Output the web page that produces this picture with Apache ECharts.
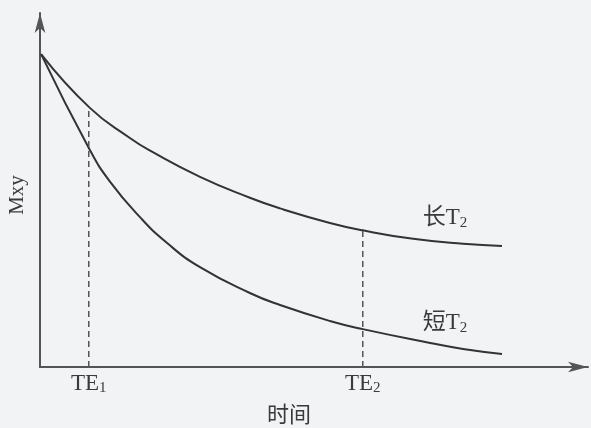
<!DOCTYPE html>
<html>
<head>
<meta charset="utf-8">
<script src="https://cdn.jsdelivr.net/npm/echarts@6/dist/echarts.min.js"></script>
<style>
  html, body { margin: 0; padding: 0; background: #f2f3f5; }
  #chart { width: 591px; height: 428px; }
</style>
</head>
<body>
<div id="chart"></div>
<script>
  // 长T2 曲线
  const longX = [0.2, 9.1, 16.4, 20.1, 29.2, 38.3, 43.8, 52.9, 58.9, 68.1, 77.2, 84.3];
  const longY = [88.4, 73.2, 64.7, 61.1, 53.7, 47.8, 44.8, 40.7, 38.6, 36.2, 34.8, 34.2];
  // 短T2 曲线
  const shortX = [0.2, 9.1, 12.8, 18.2, 23.2, 29.2, 38.3, 43.8, 52.9, 58.9, 71.2, 77.2, 84.3];
  const shortY = [88.4, 61.3, 52.3, 42.4, 35.0, 28.2, 20.9, 17.5, 13.0, 10.7, 6.8, 5.1, 3.7];
  // TE 虚线位置和刻度标签
  const teX = [8.9, 58.9];
  const teTop = [73.2, 38.6];
  const teLabels = ['TE{s|1}', 'TE{s|2}'];
  const curveNames = ['长T{s|2}', '短T{s|2}'];
  const labelAt = 77.2;

  const serif = "'Liberation Serif', 'Noto Sans CJK SC', serif";
  const ink = '#3a3a3a';
  const rich = {
    s: { fontSize: 15, fontFamily: serif, color: ink, verticalAlign: 'bottom', padding: [10, 0, 0, 0] }
  };

  function curveData(xs, ys, name) {
    return xs.map((x, i) => {
      let item = { value: [x, ys[i]] };
      if (x === labelAt) {
        item.label = {
          show: true, formatter: name, position: 'top', offset: [-18, -8],
          fontSize: 23, fontFamily: serif, color: ink, rich: rich
        };
      }
      return item;
    });
  }

  let chart = echarts.init(document.getElementById('chart'));
  let series = [
    {
      name: '长T2', type: 'line', smooth: 0.5,
      showSymbol: true, symbol: 'circle', symbolSize: 0,
      lineStyle: { color: '#333', width: 2 },
      data: curveData(longX, longY, curveNames[0])
    },
    {
      name: '短T2', type: 'line', smooth: 0.5,
      showSymbol: true, symbol: 'circle', symbolSize: 0,
      lineStyle: { color: '#333', width: 2 },
      data: curveData(shortX, shortY, curveNames[1])
    }
  ];
  teX.forEach((x, i) => {
    series.push({
      type: 'line', symbol: 'none',
      lineStyle: { color: '#555', width: 1.5, type: [6, 4] },
      data: [[x, 0], [x, teTop[i]]]
    });
  });

  chart.setOption({
    backgroundColor: '#f2f3f5',
    animation: false,
    grid: { left: 40, right: 3, top: 13, bottom: 61, containLabel: false, outerBoundsMode: 'none' },
    xAxis: {
      type: 'value', min: 0, max: 100,
      name: '时间', nameLocation: 'middle', nameGap: 38,
      nameTextStyle: { fontSize: 22, fontFamily: serif, color: ink, padding: [0, 50, 0, 0] },
      axisLine: { lineStyle: { color: '#555', width: 2 }, symbol: ['none', 'arrow'], symbolSize: [8, 20] },
      axisTick: { show: false },
      splitLine: { show: false },
      axisLabel: {
        customValues: teX,
        formatter: (v) => teLabels[teX.indexOf(v)] || '',
        fontSize: 23, fontFamily: serif, color: ink, margin: 4, rich: rich
      }
    },
    yAxis: {
      type: 'value', min: 0, max: 100,
      name: 'Mxy', nameLocation: 'middle', nameGap: 12, nameRotate: 90,
      nameTextStyle: { fontSize: 21, fontFamily: serif, color: ink, padding: [0, 10, 0, 0] },
      axisLine: { show: true, lineStyle: { color: '#555', width: 2 }, symbol: ['none', 'arrow'], symbolSize: [8, 20] },
      axisTick: { show: false },
      axisLabel: { show: false },
      splitLine: { show: false }
    },
    series: series
  });
</script>
</body>
</html>
